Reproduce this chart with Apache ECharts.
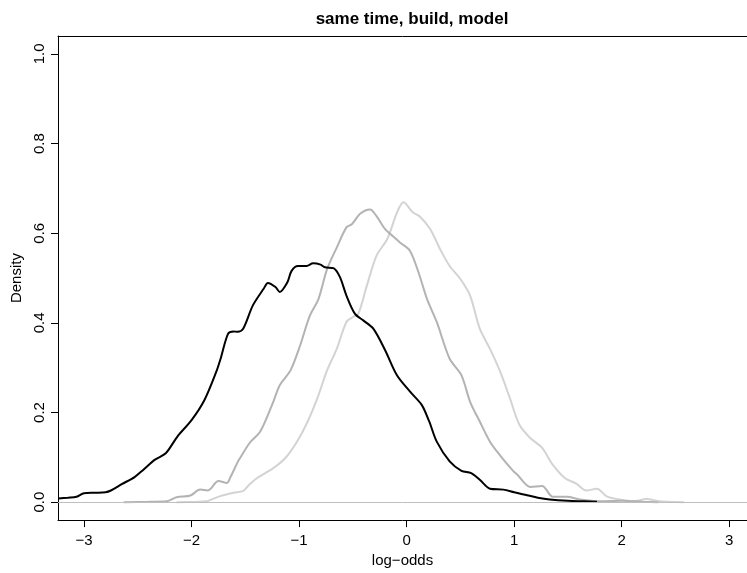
<!DOCTYPE html>
<html>
<head>
<meta charset="utf-8">
<script src="https://cdn.jsdelivr.net/npm/echarts@6/dist/echarts.min.js"></script>
<style>
html,body{margin:0;padding:0;background:#fff;}
#chart{width:747px;height:573px;}
</style>
</head>
<body>
<div id="chart"></div>
<script>
// Chart text
const titleText = "same time, build, model";
const xName = "log\u2212odds";
const yName = "Density";
const xTicks = [-3, -2, -1, 0, 1, 2, 3];
const yTicks = [0, 0.2, 0.4, 0.6, 0.8, 1.0];

// Black density curve
const blackX = [-3.24,-3.15,-3.07,-3.0,-2.9,-2.8,-2.75,-2.65,-2.53,-2.45,-2.34,-2.24,-2.13,-2.0,-1.88,-1.77,-1.73,-1.66,-1.61,-1.57,-1.52,-1.43,-1.33,-1.29,-1.22,-1.18,-1.11,-1.07,-1.01,-0.93,-0.87,-0.80,-0.76,-0.68,-0.62,-0.56,-0.48,-0.40,-0.31,-0.20,-0.09,0.03,0.14,0.21,0.28,0.40,0.51,0.60,0.68,0.775,0.90,1.0,1.12,1.22,1.33,1.5,1.65,1.77];
const blackY = [0.008,0.010,0.012,0.020,0.021,0.022,0.026,0.040,0.056,0.072,0.095,0.109,0.147,0.183,0.228,0.291,0.320,0.376,0.381,0.380,0.387,0.439,0.476,0.489,0.480,0.469,0.490,0.516,0.527,0.527,0.533,0.530,0.524,0.522,0.502,0.461,0.420,0.405,0.387,0.339,0.283,0.247,0.217,0.180,0.135,0.091,0.070,0.065,0.050,0.030,0.028,0.022,0.0155,0.010,0.006,0.003,0.002,0.001];

// Mid-grey density curve
const midX = [-2.63,-2.4,-2.23,-2.14,-2.01,-1.92,-1.85,-1.75,-1.67,-1.64,-1.57,-1.55,-1.46,-1.36,-1.24,-1.18,-1.08,-0.99,-0.90,-0.82,-0.74,-0.65,-0.56,-0.51,-0.43,-0.34,-0.28,-0.20,-0.13,-0.06,0.03,0.11,0.19,0.28,0.40,0.51,0.59,0.68,0.775,0.87,0.99,1.03,1.15,1.26,1.36,1.49,1.61,1.80,2.0,2.2,2.34];
const midY = [0.0,0.001,0.002,0.011,0.015,0.028,0.026,0.047,0.043,0.055,0.090,0.098,0.132,0.158,0.224,0.261,0.294,0.350,0.416,0.453,0.520,0.568,0.613,0.620,0.644,0.653,0.638,0.609,0.594,0.579,0.561,0.513,0.453,0.402,0.320,0.283,0.224,0.180,0.135,0.104,0.070,0.061,0.034,0.036,0.012,0.012,0.006,0.002,0.003,0.001,0.0];

// Light-grey density curve
const lightX = [-2.14,-1.95,-1.86,-1.74,-1.61,-1.52,-1.46,-1.39,-1.24,-1.13,-1.02,-0.92,-0.83,-0.74,-0.65,-0.56,-0.50,-0.45,-0.37,-0.28,-0.18,-0.09,-0.03,0.06,0.12,0.22,0.31,0.40,0.50,0.59,0.68,0.775,0.87,0.96,1.05,1.15,1.26,1.36,1.47,1.58,1.67,1.77,1.86,1.98,2.11,2.23,2.35,2.45,2.58];
const lightY = [0.0,0.001,0.002,0.013,0.021,0.025,0.040,0.054,0.076,0.098,0.135,0.180,0.232,0.294,0.342,0.402,0.413,0.420,0.483,0.550,0.587,0.646,0.669,0.646,0.638,0.609,0.565,0.527,0.498,0.461,0.387,0.342,0.291,0.232,0.172,0.143,0.121,0.083,0.054,0.041,0.026,0.030,0.013,0.006,0.002,0.007,0.002,0.001,0.0];

const zeroLine = 0;

function pairs(xs, ys){ return xs.map((x,i)=>[x, ys[i]]); }

const FONT = "Liberation Sans, Arial, Helvetica, sans-serif";
const chart = echarts.init(document.getElementById('chart'), null, {renderer:'canvas'});
chart.setOption({
  animation:false,
  backgroundColor:'#ffffff',
  title:{
    text:titleText, left:407, top:6, textAlign:'center',
    textStyle:{fontFamily:FONT, fontWeight:'bold', fontSize:17, color:'#000'}
  },
  grid:{left:58, top:36, bottom:51, right:0, show:false, containLabel:false},
  xAxis:[{
    type:'value', min:-3.242, max:3.165, position:'bottom',
    name:xName, nameLocation:'middle', nameGap:31,
    nameTextStyle:{fontFamily:FONT, fontSize:15, color:'#000'},
    axisLine:{show:true, onZero:false, lineStyle:{color:'#000', width:1}},
    axisTick:{show:true, length:7, customValues:xTicks, lineStyle:{color:'#000'}},
    axisLabel:{customValues:xTicks, margin:13, fontFamily:FONT, fontSize:15, color:'#000',
      formatter:v=> (v<0? '\u2212'+Math.abs(v) : String(v))},
    splitLine:{show:false}
  },{
    type:'value', min:-3.242, max:3.165, position:'top',
    axisLine:{show:true, onZero:false, lineStyle:{color:'#000', width:1}},
    axisTick:{show:false}, axisLabel:{show:false}, splitLine:{show:false}
  }],
  yAxis:{
    type:'value', min:-0.04, max:1.04, position:'left',
    name:yName, nameLocation:'middle', nameGap:31, nameRotate:90,
    nameTextStyle:{fontFamily:FONT, fontSize:15, color:'#000'},
    axisLine:{show:true, onZero:false, lineStyle:{color:'#000', width:1}},
    axisTick:{show:true, length:7, customValues:yTicks, lineStyle:{color:'#000'}},
    axisLabel:{customValues:yTicks, rotate:90, margin:11, fontFamily:FONT, fontSize:15, color:'#000',
      formatter:v=>v.toFixed(1)},
    splitLine:{show:false}
  },
  series:[
    {type:'line', xAxisIndex:0, data:pairs(lightX, lightY), showSymbol:false, smooth:0.3,
      lineStyle:{color:'#d3d3d3', width:2}, z:2,
      markLine:{silent:true, symbol:['none','none'], label:{show:false},
        lineStyle:{color:'#bebebe', width:1, type:'solid'}, data:[{yAxis:zeroLine}]}},
    {type:'line', xAxisIndex:0, data:pairs(midX, midY), showSymbol:false, smooth:0.3,
      lineStyle:{color:'#b3b3b3', width:2}, z:3},
    {type:'line', xAxisIndex:0, data:pairs(blackX, blackY), showSymbol:false, smooth:0.3,
      lineStyle:{color:'#000000', width:2}, z:4}
  ]
});
</script>
</body>
</html>
